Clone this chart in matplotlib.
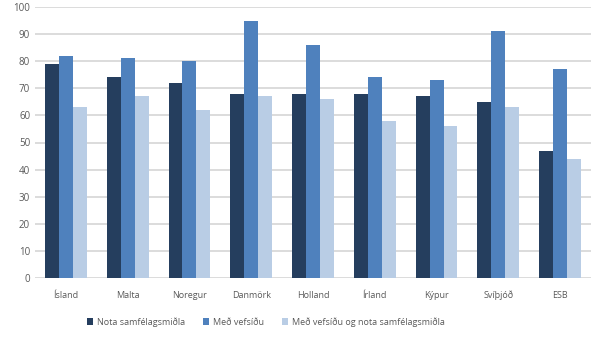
import matplotlib.pyplot as plt
import numpy as np

plt.rcParams['font.family'] = ['Open Sans', 'DejaVu Sans']

# gögn
lond = ['Ísland', 'Malta', 'Noregur', 'Danmörk', 'Holland', 'Írland', 'Kýpur', 'Svíþjóð', 'ESB']
nota_samf = [79, 74, 72, 68, 68, 68, 67, 65, 47]
med_vefsidu = [82, 81, 80, 95, 86, 74, 73, 91, 77]
med_baedi = [63, 67, 62, 67, 66, 58, 56, 63, 44]
heiti = ['Nota samfélagsmiðla', 'Með vefsíðu', 'Með vefsíðu og nota samfélagsmiðla']

colors = ['#253e5e', '#4f81bd', '#b9cde5']
grey = '#595959'

fig = plt.figure(figsize=(6.07, 3.59), dpi=100)
ax = fig.add_axes([35 / 607, 81 / 359, 556 / 607, 271 / 359])

x = np.arange(len(lond))
w = 0.225
for i, vals in enumerate([nota_samf, med_vefsidu, med_baedi]):
    ax.bar(x + (i - 1) * w, vals, width=w, color=colors[i], label=heiti[i], zorder=3)

ax.set_xlim(-0.5, len(lond) - 0.5)
ax.set_ylim(0, 100)
ax.set_yticks(range(0, 101, 10))
ax.yaxis.grid(True, color='#d9d9d9', linewidth=1.3, zorder=0)
for s in ax.spines.values():
    s.set_visible(False)
ax.tick_params(axis='both', length=0, colors=grey)
ax.tick_params(axis='y', labelsize=7)
ax.tick_params(axis='x', labelsize=6.5, pad=9)
ax.set_xticks(x)
ax.set_xticklabels(lond)

fig.legend(loc='center', bbox_to_anchor=(266 / 607, 1 - 322 / 359), ncol=3, frameon=False,
           fontsize=6.5, handlelength=0.7, handleheight=0.7, handletextpad=0.4,
           columnspacing=2.0, labelcolor=grey)

fig.savefig('out.png', dpi=100)
